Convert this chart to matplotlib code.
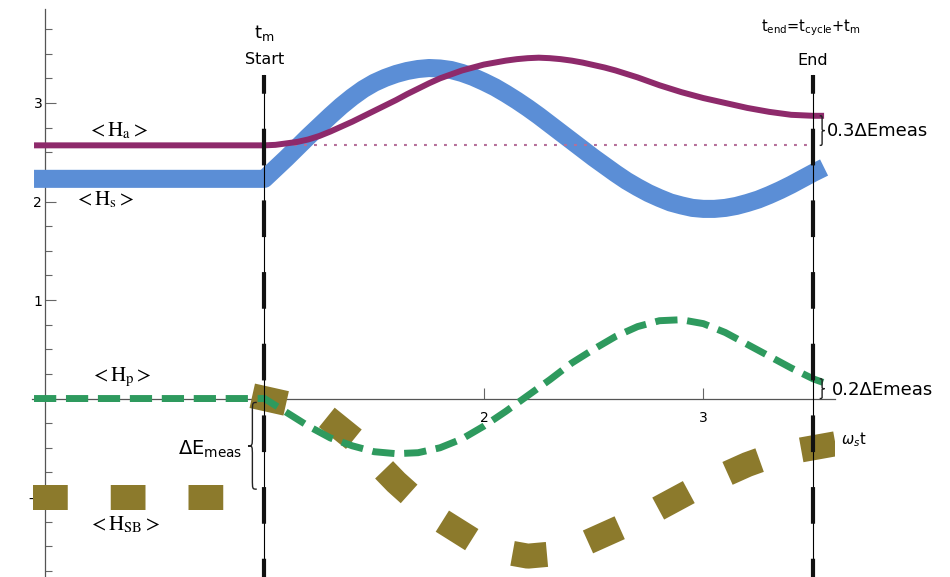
import numpy as np
import matplotlib
matplotlib.use("Agg")
import matplotlib.pyplot as plt
from matplotlib.path import Path
from matplotlib.patches import PathPatch

# measurement window (in units of omega_s t)
t_start = 1.0
t_end = 3.5
t_left = -0.05
dE_meas = 1.0

# sample times after the measurement is switched on
t_fine = [1.00, 1.05, 1.10, 1.15, 1.20, 1.25, 1.30, 1.35, 1.40, 1.45, 1.50, 1.55, 1.60,
          1.65, 1.70, 1.75, 1.80, 1.85, 1.90, 1.95, 2.00, 2.05, 2.10, 2.15, 2.20, 2.25,
          2.30, 2.35, 2.40, 2.45, 2.50, 2.55, 2.60, 2.65, 2.70, 2.75, 2.80, 2.85, 2.90,
          2.95, 3.00, 3.05, 3.10, 3.15, 3.20, 3.25, 3.30, 3.35, 3.40, 3.45, 3.50, 3.55]
t_run = [1.0, 1.1, 1.2, 1.3, 1.4, 1.5, 1.6, 1.7, 1.8, 1.9, 2.0, 2.1, 2.2,
         2.3, 2.4, 2.5, 2.6, 2.7, 2.8, 2.9, 3.0, 3.1, 3.2, 3.3, 3.4, 3.5, 3.55]

# <H_a> : apparatus (on t_fine)
H_a = [2.57, 2.575, 2.59, 2.605, 2.63, 2.665, 2.71, 2.76, 2.81, 2.865, 2.92, 2.975, 3.03,
       3.09, 3.145, 3.20, 3.25, 3.29, 3.33, 3.36, 3.39, 3.41, 3.43, 3.445, 3.455, 3.46,
       3.455, 3.445, 3.43, 3.41, 3.385, 3.36, 3.33, 3.295, 3.26, 3.22, 3.18, 3.145, 3.11,
       3.08, 3.05, 3.025, 3.00, 2.975, 2.95, 2.93, 2.91, 2.895, 2.88, 2.875, 2.87, 2.87]
# <H_s> : system (on t_fine)
H_s = [2.23, 2.335, 2.44, 2.55, 2.66, 2.765, 2.87, 2.97, 3.06, 3.14, 3.205, 3.255, 3.295,
       3.325, 3.345, 3.355, 3.35, 3.335, 3.305, 3.265, 3.215, 3.16, 3.095, 3.025, 2.95, 2.87,
       2.785, 2.70, 2.615, 2.53, 2.445, 2.365, 2.285, 2.21, 2.145, 2.085, 2.035, 1.99, 1.96,
       1.935, 1.925, 1.925, 1.935, 1.955, 1.985, 2.02, 2.065, 2.115, 2.17, 2.23, 2.29, 2.345]
# <H_p> : pointer (on t_run)
H_p = [0.0, -0.14, -0.28, -0.40, -0.48, -0.54, -0.56, -0.55, -0.50, -0.41, -0.28, -0.13, 0.03,
       0.19, 0.36, 0.50, 0.63, 0.73, 0.79, 0.80, 0.76, 0.67, 0.55, 0.43, 0.31, 0.20, 0.16]
# <H_SB> : system-bath coupling, jumps by dE_meas at t_m (on t_run)
H_sb_before = -1.0
H_sb = [0.0, -0.05, -0.11, -0.22, -0.40, -0.62, -0.85, -1.05, -1.23, -1.37, -1.48, -1.56, -1.60,
        -1.58, -1.52, -1.43, -1.33, -1.22, -1.11, -0.99, -0.88, -0.77, -0.67, -0.59, -0.53, -0.50,
        -0.48]

c_a = "#8e2a6b"
c_s = "#5b8ed6"
c_p = "#2e9a5e"
c_sb = "#8c7a2c"


def brace(ax, x, y0, y1, w, lw=1.0):
    """curly brace from y0 to y1; ends at x, cusp at x + w"""
    ym = 0.5 * (y0 + y1)
    r = 0.12 * abs(y1 - y0)
    h = 0.5 * w
    verts = [(x, y1),
             (x + h, y1), (x + h, y1), (x + h, y1 - r),
             (x + h, ym + r),
             (x + h, ym), (x + h, ym), (x + w, ym),
             (x + h, ym), (x + h, ym), (x + h, ym - r),
             (x + h, y0 + r),
             (x + h, y0), (x + h, y0), (x, y0)]
    codes = [Path.MOVETO,
             Path.CURVE4, Path.CURVE4, Path.CURVE4,
             Path.LINETO,
             Path.CURVE4, Path.CURVE4, Path.CURVE4,
             Path.CURVE4, Path.CURVE4, Path.CURVE4,
             Path.LINETO,
             Path.CURVE4, Path.CURVE4, Path.CURVE4]
    ax.add_patch(PathPatch(Path(verts, codes), fill=False, lw=lw,
                           edgecolor="#222222", clip_on=False, zorder=7))


fig = plt.figure(figsize=(9.5, 5.77), dpi=100)
ax = fig.add_axes([0.0335, 0.0003, 0.8455, 0.9834])
ax.set_xlim(-0.06, 3.6)
ax.set_ylim(-1.81, 3.95)

for side in ["top", "right"]:
    ax.spines[side].set_visible(False)
ax.spines["left"].set_position(("data", 0))
ax.spines["bottom"].set_position(("data", 0))
for side in ["left", "bottom"]:
    ax.spines[side].set_color("#555555")
    ax.spines[side].set_linewidth(0.9)

ax.set_xticks([1, 2, 3])
ax.set_xticklabels(["", "2", "3"])
ax.set_yticks([-1, 1, 2, 3])
ax.set_yticklabels(["-1", "1", "2", "3"])
ax.set_yticks(np.arange(-1.75, 3.9, 0.25), minor=True)
ax.tick_params(which="both", direction="in", color="#666666", width=0.8, labelsize=10)
ax.tick_params(which="major", length=8)
ax.tick_params(which="minor", length=5)
ax.tick_params(axis="x", pad=9)
ax.tick_params(axis="y", pad=2)

# curves: constant before t_m, evolving afterwards
ax.plot([t_left] + t_fine, [H_s[0]] + H_s, color=c_s, lw=13, solid_capstyle="butt", zorder=3)
ax.plot([t_left] + t_fine, [H_a[0]] + H_a, color=c_a, lw=4.3, solid_capstyle="butt", zorder=4)
ax.plot([t_start, t_end], [H_a[0], H_a[0]], color="#b5709a", lw=1.5,
        ls=(0, (1.4, 3.4)), zorder=3.5)

ax.plot([0.0, 0.97], [H_sb_before, H_sb_before], color=c_sb, lw=18,
        ls=(0, (0.39, 2.72)), dash_capstyle="projecting", zorder=3)
ax.plot(t_run, H_sb, color=c_sb, lw=18,
        ls=(0, (0.39, 2.72)), dash_capstyle="projecting", zorder=3)

ax.plot([t_left] + t_run, [H_p[0]] + H_p, color=c_p, lw=5,
        ls=(0, (3.2, 1.4)), dash_capstyle="butt", zorder=4.5)

# start / end markers
for tx in (t_start, t_end):
    ax.plot([tx, tx], [3.28, -1.81], color="black", lw=0.8, zorder=6)
    ax.plot([tx, tx], [3.28, -1.81], color="#111111", lw=3,
            ls=(4.3, (8.8, 8.4)), dash_capstyle="butt", zorder=6)

ax.text(t_start, 3.71, r"t$_\mathrm{m}$", ha="center", va="center", fontsize=13)
ax.text(t_start, 3.44, "Start", ha="center", va="center", fontsize=11.5)
ax.text(t_end - 0.01, 3.76, r"t$_\mathrm{end}$=t$_\mathrm{cycle}$+t$_\mathrm{m}$",
        ha="center", va="center", fontsize=10.5)
ax.text(t_end, 3.43, "End", ha="center", va="center", fontsize=11.5)

lab = dict(ha="center", va="center", fontsize=15, math_fontfamily="stix")
ax.text(0.33, 2.72, r"$<\mathrm{H}_{\mathrm{a}}>$", **lab)
ax.text(0.27, 2.02, r"$<\mathrm{H}_{\mathrm{s}}>$", **lab)
ax.text(0.345, 0.21, r"$<\mathrm{H}_{\mathrm{p}}>$", **lab)
ax.text(0.36, -1.28, r"$<\mathrm{H}_{\mathrm{SB}}>$", **lab)

# energy bookkeeping
brace(ax, 0.965, H_sb_before + 0.08, -0.04, -0.04)
ax.text(0.90, -0.52, r"$\Delta$E$_\mathrm{meas}$", ha="right", va="center", fontsize=14)

brace(ax, 3.53, H_a[0], H_a[0] + 0.3 * dE_meas, 0.022)
ax.text(3.562, 2.72, "0.3ΔEmeas", ha="left", va="center", fontsize=13)
brace(ax, 3.53, 0.0, 0.2 * dE_meas, 0.022)
ax.text(3.585, 0.09, "0.2ΔEmeas", ha="left", va="center", fontsize=13)
ax.text(3.625, -0.42, r"$\omega_s$t", ha="left", va="center", fontsize=10.5)

fig.savefig("out.png", dpi=100)
